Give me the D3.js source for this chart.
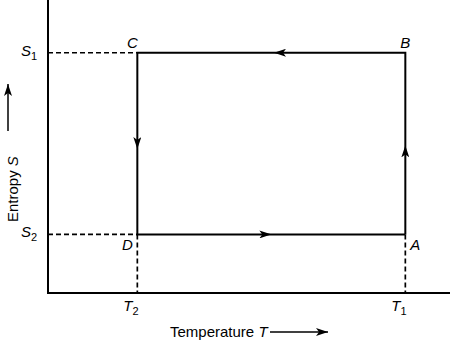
<!DOCTYPE html>
<html>
<head>
<meta charset="utf-8">
<script src="https://cdn.jsdelivr.net/npm/d3@7"></script>
<style>
  body { margin: 0; background: #fff; }
  svg { display: block; font-family: 'Liberation Sans', Arial, sans-serif; }
</style>
</head>
<body>
<script>
// temperature / entropy levels (arbitrary units)
const tempLevels = [{ name: 'T', sub: '2', value: 1 }, { name: 'T', sub: '1', value: 4 }];
const entropyLevels = [{ name: 'S', sub: '2', value: 1 }, { name: 'S', sub: '1', value: 4.1 }];

// cycle corners A -> B -> C -> D -> A
const corners = ['A', 'B', 'C', 'D'];
const cornerT = [4, 4, 1, 1];
const cornerS = [1, 4.1, 4.1, 1];
// where the arrow tip sits along each edge (fraction of the edge)
const arrowAt = [0.49, 0.49, 0.53, 0.5];

const width = 450;
const height = 342;

const svg = d3.select('body').append('svg')
  .attr('width', width)
  .attr('height', height);

const x = d3.scaleLinear().domain([0, 4.5]).range([48, 450]);
const y = d3.scaleLinear().domain([0, 5]).range([293, 0]);

const defs = svg.append('defs');
defs.append('marker')
  .attr('id', 'head')
  .attr('viewBox', '0 0 12 8')
  .attr('refX', 12)
  .attr('refY', 4)
  .attr('markerWidth', 12)
  .attr('markerHeight', 8)
  .attr('markerUnits', 'userSpaceOnUse')
  .attr('orient', 'auto')
  .append('path')
  .attr('d', 'M0,0 L12,4 L0,8 L3,4 Z')
  .attr('fill', '#000');

// axes (plain lines, no ticks)
svg.append('line')
  .attr('x1', x(0)).attr('x2', x(0))
  .attr('y1', y(5)).attr('y2', y(0))
  .attr('stroke', '#000').attr('stroke-width', 2);
svg.append('line')
  .attr('x1', x(0) - 1).attr('x2', x(4.5))
  .attr('y1', y(0)).attr('y2', y(0))
  .attr('stroke', '#000').attr('stroke-width', 2);

// dashed guides
const cycle = corners.map((c, i) => ({ name: c, T: cornerT[i], S: cornerS[i] }));
const hGuides = entropyLevels.map(s => ({ x1: x(0), x2: x(1), y: y(s.value) }));
svg.selectAll('.hguide').data(hGuides).enter().append('line')
  .attr('class', 'hguide')
  .attr('x1', d => d.x1).attr('x2', d => d.x2)
  .attr('y1', d => d.y).attr('y2', d => d.y)
  .attr('stroke', '#000').attr('stroke-width', 1.7)
  .attr('stroke-dasharray', '5,3');
svg.selectAll('.vguide').data(tempLevels).enter().append('line')
  .attr('class', 'vguide')
  .attr('x1', d => x(d.value)).attr('x2', d => x(d.value))
  .attr('y1', y(1)).attr('y2', y(0))
  .attr('stroke', '#000').attr('stroke-width', 1.7)
  .attr('stroke-dasharray', '5,3');

// cycle rectangle
const line = d3.line().x(d => x(d.T)).y(d => y(d.S));
svg.append('path')
  .attr('d', line(cycle.concat([cycle[0]])))
  .attr('fill', 'none')
  .attr('stroke', '#000')
  .attr('stroke-width', 2)
  .attr('stroke-linejoin', 'miter');

// arrow heads along each edge
const edges = cycle.map((d, i) => {
  const n = cycle[(i + 1) % cycle.length];
  const t = arrowAt[i];
  const tx = x(d.T) + (x(n.T) - x(d.T)) * t;
  const ty = y(d.S) + (y(n.S) - y(d.S)) * t;
  const len = Math.hypot(x(n.T) - x(d.T), y(n.S) - y(d.S));
  const ux = (x(n.T) - x(d.T)) / len;
  const uy = (y(n.S) - y(d.S)) / len;
  return { x1: tx - ux * 12, y1: ty - uy * 12, x2: tx, y2: ty };
});
svg.selectAll('.arrow').data(edges).enter().append('line')
  .attr('class', 'arrow')
  .attr('x1', d => d.x1).attr('y1', d => d.y1)
  .attr('x2', d => d.x2).attr('y2', d => d.y2)
  .attr('stroke', 'none')
  .attr('marker-end', 'url(#head)');

// corner labels
const labelOffset = { A: [10, 16], B: [0, -5], C: [-5, -5], D: [-10, 16] };
svg.selectAll('.corner').data(cycle).enter().append('text')
  .attr('class', 'corner')
  .attr('x', d => x(d.T) + labelOffset[d.name][0])
  .attr('y', d => y(d.S) + labelOffset[d.name][1])
  .attr('text-anchor', 'middle')
  .attr('font-size', 15)
  .attr('font-style', 'italic')
  .text(d => d.name);

// level labels with subscripts
function subLabel(sel) {
  sel.append('tspan').attr('font-style', 'italic').text(d => d.name);
  sel.append('tspan').attr('font-size', 11).attr('dy', 4).text(d => d.sub);
}
svg.selectAll('.slabel').data(entropyLevels).enter().append('text')
  .attr('class', 'slabel')
  .attr('x', 21)
  .attr('y', d => y(d.value) + 3)
  .attr('font-size', 15)
  .call(subLabel);
svg.selectAll('.tlabel').data(tempLevels).enter().append('text')
  .attr('class', 'tlabel')
  .attr('x', d => x(d.value) - 14)
  .attr('y', 311)
  .attr('font-size', 15)
  .call(subLabel);

// axis titles
const xt = svg.append('text')
  .attr('x', 170)
  .attr('y', 337)
  .attr('font-size', 15);
xt.append('tspan').text('Temperature ');
xt.append('tspan').attr('font-style', 'italic').text('T');
svg.append('line')
  .attr('x1', 270).attr('x2', 328)
  .attr('y1', 332).attr('y2', 332)
  .attr('stroke', '#000').attr('stroke-width', 1.5)
  .attr('marker-end', 'url(#head)');

const yt = svg.append('text')
  .attr('transform', 'translate(18,222) rotate(-90)')
  .attr('font-size', 15);
yt.append('tspan').text('Entropy ');
yt.append('tspan').attr('font-style', 'italic').text('S');
svg.append('line')
  .attr('x1', 8).attr('x2', 8)
  .attr('y1', 131).attr('y2', 84)
  .attr('stroke', '#000').attr('stroke-width', 1.5)
  .attr('marker-end', 'url(#head)');
</script>
</body>
</html>
